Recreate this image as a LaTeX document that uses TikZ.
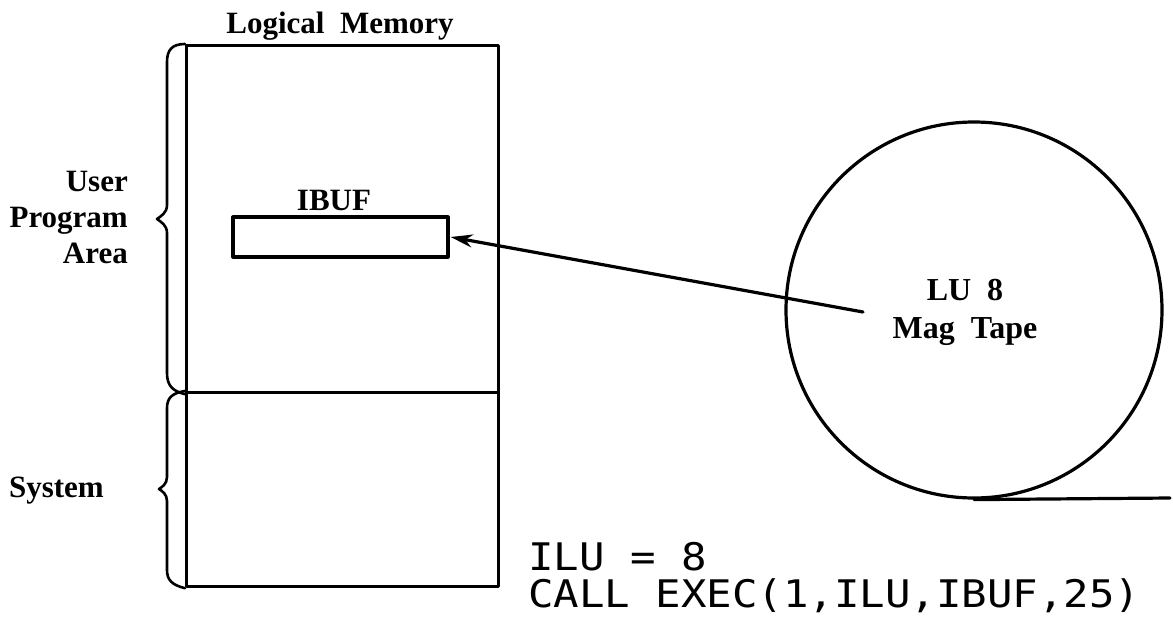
\documentclass[tikz,border=0pt]{standalone}
\usepackage{fontspec}
\setmainfont{Liberation Serif}
\newfontfamily\codefont[FakeStretch=1.115]{DejaVu Sans Mono}
\usetikzlibrary{arrows.meta}
\tikzset{
  heavy/.style={line width=3.2pt, line join=round, line cap=round},
  membox/.style={heavy, draw, anchor=north west, inner sep=0pt},
  lbl/.style={font=\fontsize{31}{36}\selectfont\bfseries, inner sep=0pt},
  bracepath/.style={line width=2.6pt, line join=round, line cap=round},
  feed/.style={heavy, -{Stealth[length=22pt,width=13pt,inset=7pt]}},
  codetext/.style={font=\codefont\fontsize{38}{38}\selectfont, inner sep=0pt, anchor=base west}
}
\begin{document}
\begin{tikzpicture}[x=1pt,y=-1pt]
\useasboundingbox (0,0) rectangle (1173,619);
% memory
\node[membox, minimum width=312pt, minimum height=347pt] (upper) at (185,44) {};
\node[membox, minimum width=312pt, minimum height=194pt] (lower) at (185,391) {};
\node[lbl, anchor=base] (title) at (340,33) {Logical\ \ Memory};
% IBUF
\node[heavy, draw, minimum width=215pt, minimum height=40pt, inner sep=0pt] (ibuf) at (340.5,237) {};
\node[lbl, anchor=base] (ibuflbl) at (334,210) {IBUF};
% braces
\draw[bracepath] (upper.north west) .. controls (172,44) and (167,50) .. (167,62)
  -- (167,205) .. controls (167,213) and (161,216) .. (157,219)
  .. controls (161,222) and (167,225) .. (167,233)
  -- (167,373) .. controls (167,385) and (172,391) .. (upper.south west);
\draw[bracepath] (lower.north west) .. controls (172,393) and (167,398) .. (167,408)
  -- (167,477) .. controls (167,484) and (162,487) .. (159,489)
  .. controls (162,491) and (167,494) .. (167,501)
  -- (167,570) .. controls (167,580) and (172,585) .. (lower.south west);
\node[lbl, align=right, anchor=east] (upa) at (128,217) {User\\Program\\Area};
\node[lbl, anchor=base east] (sys) at (104,497) {System};
% tape
\node[heavy, draw, circle, minimum size=376pt, inner sep=0pt] (tape) at (974,310) {};
\node[lbl, font=\fontsize{32}{38}\selectfont\bfseries, align=center] (tapelbl) at (965,312) {LU\ \ 8\\Mag\ \ Tape};
\coordinate (tapeout) at (1170,498);
\draw[heavy] (tape.south) -- (tapeout);
\coordinate (feedstart) at (863,312);
\draw[feed] (feedstart) -- ([xshift=1pt]ibuf.east);
% code
\node[codetext] (code1) at (528,570) {ILU = 8};
\node[codetext] (code2) at (528,607) {CALL EXEC(1,ILU,IBUF,25)};
\end{tikzpicture}
\end{document}
